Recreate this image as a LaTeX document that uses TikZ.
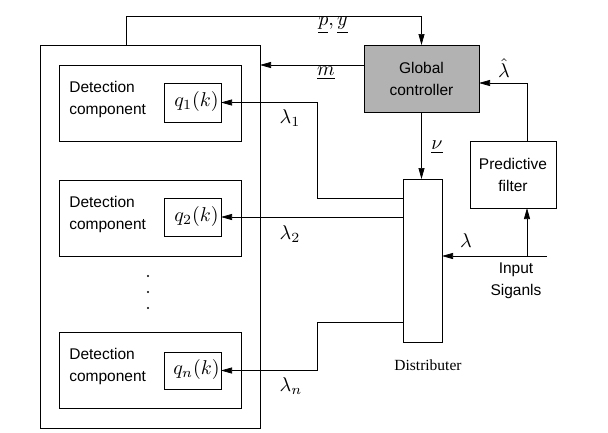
\documentclass[tikz,border=0pt]{standalone}
\usepackage{graphicx}
\usepackage{fontspec}
\setsansfont{Liberation Sans}
\newfontfamily\serifdist{Liberation Serif}
\usetikzlibrary{arrows.meta}
\newcommand{\mymathlbl}[1]{\scalebox{2.0}{\fontsize{10}{12}\selectfont$#1$}}
\begin{document}
\begin{tikzpicture}[x=1pt,y=-1pt,
  line width=0.7pt,
  font=\fontsize{15.5}{22}\selectfont\sffamily,
  box/.style={draw, inner sep=0pt, outer sep=0pt, anchor=north west},
  arr/.style={-{Triangle[length=11pt,width=6pt]}},
  lbl/.style={inner sep=0pt}]
\useasboundingbox (0,0) rectangle (608,432);
% boxes
\node[box, minimum width=220pt, minimum height=383pt] (outer) at (40,45) {};
\node[box, minimum width=182pt, minimum height=76pt] (d1) at (59,65) {};
\node[box, minimum width=182pt, minimum height=76pt] (d2) at (59,180) {};
\node[box, minimum width=182pt, minimum height=76pt] (dn) at (59,332) {};
\node[box, minimum width=57pt, minimum height=39pt] (q1) at (164,83) {};
\node[box, minimum width=57pt, minimum height=38pt] (q2) at (164,198) {};
\node[box, minimum width=57pt, minimum height=37pt] (qn) at (164,352) {};
\node[box, fill=black!30, minimum width=115pt, minimum height=67pt] (gc) at (364,45) {};
\node[box, minimum width=39pt, minimum height=163pt] (dist) at (403,179) {};
\node[box, minimum width=86pt, minimum height=67pt] (pf) at (470,141) {};
% texts
\node[inner sep=0pt, anchor=west, align=left] (t1) at (69,99) {Detection\\component};
\node[inner sep=0pt, anchor=west, align=left] (t2) at (69,214) {Detection\\component};
\node[inner sep=0pt, anchor=west, align=left] (tn) at (69,366) {Detection\\component};
\node[lbl] (m1) at ([xshift=4pt,yshift=1pt]q1.center) {\mymathlbl{q_1(k)}};
\node[lbl] (m2) at ([xshift=4pt,yshift=1pt]q2.center) {\mymathlbl{q_2(k)}};
\node[lbl] (mn) at ([xshift=4pt,yshift=1pt]qn.center) {\mymathlbl{q_n(k)}};
\node[inner sep=0pt, align=center] (gct) at (gc.center) {Global\\controller};
\node[inner sep=0pt, align=center] (pft) at (pf.center) {Predictive\\filter};
\node[inner sep=0pt, align=center] (ins) at (516,281) {Input\\Siganls};
\node[inner sep=0pt, font=\fontsize{15.5}{18}\selectfont\serifdist] (dl) at (428,365) {Distributer};
% dots
\foreach \yy in {276,292,308} \fill (148,\yy) circle (1.1pt);
% connectors
\coordinate (top) at (126,16);
\draw[arr] (outer.north -| top) -- (top) -| (gc.north);
\coordinate (mline) at (364,65);
\draw[arr] (mline) -- (mline -| outer.east);
\draw[arr] (gc.south) -- (gc.south |- dist.north);
\coordinate (lh) at (527,83);
\draw[arr] (pf.north -| lh) -- (lh) -- (lh -| gc.east);
\coordinate (in) at (547,256);
\draw[arr] (in) -- (in -| dist.east);
\draw[arr] (in -| lh) -- (pf.south -| lh);
\coordinate (l1) at (317,198);
\draw[arr] (l1 -| dist.west) -- (l1) |- (q1.east);
\draw[arr] (dist.west |- q2.east) -- (q2.east);
\coordinate (ln) at (317,322);
\draw[arr] (ln -| dist.west) -- (ln) |- (qn.east);
% labels
\node[lbl] (lpy) at (333,25) {\mymathlbl{\underline{p},\underline{y}}};
\node[lbl] (lm) at (326,73) {\mymathlbl{\underline{m}}};
\node[lbl] (lnu) at (437,147) {\mymathlbl{\underline{\nu}}};
\node[lbl] (llh) at (504,68) {\mymathlbl{\hat\lambda}};
\node[lbl] (ll) at (466,241) {\mymathlbl{\lambda}};
\node[lbl] (ll1) at (290,118) {\mymathlbl{\lambda_1}};
\node[lbl] (ll2) at (290,234) {\mymathlbl{\lambda_2}};
\node[lbl] (lln) at (291,386) {\mymathlbl{\lambda_n}};
\end{tikzpicture}
\end{document}
